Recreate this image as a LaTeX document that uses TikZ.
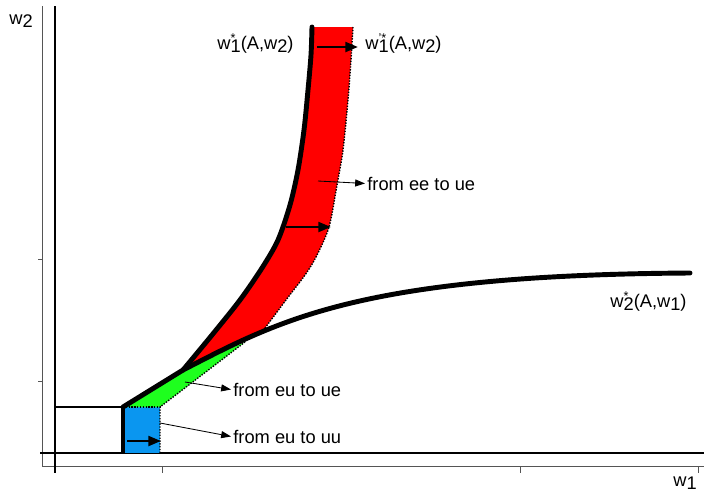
\documentclass[tikz,border=0pt]{standalone}
\usepackage{fontspec}
\setmainfont{Liberation Sans}
\usepackage{tikz}
\usetikzlibrary{arrows.meta}
\definecolor{regred}{HTML}{FF0000}
\definecolor{reggreen}{HTML}{1EFF1E}
\definecolor{regblue}{HTML}{0A96F0}
\definecolor{framegray}{HTML}{555555}
\newcommand{\wsb}[1]{w\raisebox{-2.4pt}{#1}}
\newcommand{\wvar}[2]{w\makebox[0pt][l]{\raisebox{4.4pt}{\fontsize{9}{9}\selectfont #2}}\raisebox{-2.4pt}{#1}}

\begin{document}
\begin{tikzpicture}[x=0.025cm, y=-0.025cm,
        thickcurve/.style={line width=3.5pt, line join=round, line cap=round},
        bound/.style={line width=1pt, dash pattern=on 1pt off 1pt},
        shiftarr/.style={-{Triangle[length=9pt,width=7pt]}, line width=1.8pt},
        lbl/.style={font=\fontsize{13}{15}\selectfont, inner sep=1.5pt},
        lblarr/.style={-{Triangle[length=7pt,width=5pt]}, line width=0.6pt}
      ]
      \useasboundingbox (0,0) rectangle (704,495);
      % frame and axes
      \draw[framegray, line width=0.7pt] (42,6) -- (42,466) -- (704,466);
      \foreach \y in {259,381} \draw[framegray, line width=0.7pt] (38,\y) -- (42,\y);
      \foreach \x in {162,520,698} \draw[framegray, line width=0.7pt] (\x,466) -- (\x,473);
      \draw[line width=1.2pt] (55,6) -- (55,473);
      \draw[line width=1.4pt] (40,453) -- (704,453);
      % regions
      \fill[regblue] (123,407) rectangle (160,453);
      \fill[reggreen] (123,407) -- (183,370) -- (220,353) -- (245,342) -- (160,407) -- cycle;
      \fill[regred] plot[smooth] coordinates {(183,370) (212,335) (240,300) (262,268)
          (278,240) (290,205) (298,170) (304,130) (308,90) (311,55) (312,27)}
        -- plot[smooth] coordinates {(353,27) (351,60) (348,100) (343,150) (337,185)
          (329,227) (316,257) (305,275) (289,296) (271,320) (262,332)}
        -- (245,340) -- (215,355) -- cycle;
      % dotted boundaries
      \draw[bound] (160,453) -- (160,407) -- (245,342);
      \draw[bound] (123,407) -- (160,407);
      \draw[bound] plot[smooth] coordinates {(353,27) (351,60) (348,100) (343,150) (337,185)
          (329,227) (316,257) (305,275) (289,296) (271,320) (262,332)};
      % thresholds
      \draw[line width=1.5pt] (55,407) -- (123,407);
      \draw[line width=2.6pt] (123,453) -- (123,407);
      \draw[thickcurve] (123,407) -- (183,370);
      \draw[thickcurve] plot[smooth] coordinates {(183,370) (212,335) (240,300) (262,268)
          (278,240) (290,205) (298,170) (304,130) (308,90) (311,55) (312,27)};
      \draw[thickcurve] (183,370) .. controls (280,320) and (360,275) .. (690,273);
      % shifts
      \coordinate (topA) at (317,47);
      \coordinate (topB) at (358,47);
      \coordinate (midA) at (286,227);
      \coordinate (midB) at (331,227);
      \coordinate (lowA) at (127,441);
      \coordinate (lowB) at (161,441);
      \draw[shiftarr] (topA) -- (topB);
      \draw[shiftarr] (midA) -- (midB);
      \draw[shiftarr] (lowA) -- (lowB);
      % labels
      \node[lbl, anchor=base west] (w2ax) at (7,24) {\wsb{2}};
      \node[lbl, anchor=base west] (w1ax) at (671,486) {\wsb{1}};
      \node[lbl, anchor=base west] (w1star) at (215,49) {\wvar{1}{*}(A,\wsb{2})};
      \node[lbl, anchor=base west] (w1prime) at (363,49) {\wvar{1}{'*}(A,\wsb{2})};
      \node[lbl, anchor=base west] (w2star) at (608,307) {\wvar{2}{*}(A,\wsb{1})};
      \node[lbl, anchor=base west] (eeue) at (365,190) {from ee to ue};
      \node[lbl, anchor=base west] (euue) at (231,396) {from eu to ue};
      \node[lbl, anchor=base west] (euuu) at (231,443) {from eu to uu};
      \coordinate (eeSrc) at (318,181);
      \coordinate (euueSrc) at (185,382);
      \coordinate (euuuSrc) at (160,423);
      \draw[lblarr] (eeSrc) -- (eeue.west);
      \draw[lblarr] (euueSrc) -- (euue.west);
      \draw[lblarr] (euuuSrc) -- (euuu.west);
    \end{tikzpicture}
\end{document}
